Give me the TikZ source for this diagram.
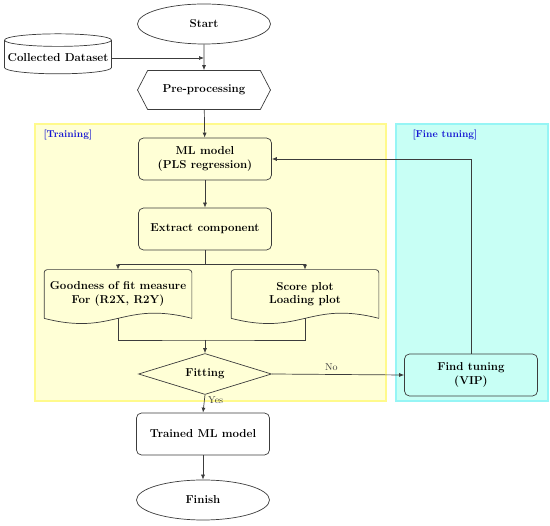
\documentclass[tikz,border=0pt]{standalone}
\usepackage{tikz}
\usetikzlibrary{calc,arrows.meta,shapes.geometric,shapes.symbols}
\definecolor{linegray}{RGB}{60,60,60}
\definecolor{trainfill}{RGB}{255,255,214}
\definecolor{trainline}{RGB}{255,250,140}
\definecolor{tunefill}{RGB}{200,255,245}
\definecolor{tuneline}{RGB}{150,245,245}
\definecolor{tagblue}{RGB}{20,20,210}
\tikzset{
  flow/.style={draw=linegray, line width=0.7pt, font=\fontsize{11.5}{13.5}\selectfont\bfseries},
  term/.style={flow, ellipse, minimum width=133pt, minimum height=40pt},
  proc/.style={flow, rectangle, rounded corners=5pt, minimum width=133pt, minimum height=42pt, align=center},
  prep/.style={flow, signal, signal to=east and west, signal pointer angle=125, minimum width=133pt, minimum height=39pt},
  decide/.style={flow, diamond, aspect=3.2, inner sep=0pt, minimum width=133pt, minimum height=41pt},
  store/.style={flow, cylinder, shape border rotate=90, aspect=0.12, inner sep=2pt, minimum width=107pt, minimum height=40pt},
  doc/.style={flow, draw=none, minimum width=147pt, minimum height=48pt, align=center},
  conn/.style={draw=linegray, line width=0.7pt, -{Latex[length=5pt,width=4pt]}},
  tag/.style={text=tagblue, font=\fontsize{10}{12}\selectfont\bfseries, anchor=west},
  lbl/.style={font=\fontsize{10}{12}\selectfont, text=linegray}
}
\def\docshape#1{\draw[draw=linegray, line width=0.7pt, rounded corners=3pt] (#1.south east) -- (#1.north east) -- (#1.north west) -- (#1.south west);
  \draw[draw=linegray, line width=0.7pt] (#1.south west) .. controls ($(#1.south west)+(70,18)$) and ($(#1.south east)+(-70,-18)$) .. (#1.south east);}

\begin{document}
\begin{tikzpicture}[x=1pt,y=-1pt]
    \useasboundingbox (0,0) rectangle (550,526);
    % zones
    \draw[trainline, fill=trainfill, line width=1.5pt] (35,124) rectangle (386,401);
    \draw[tuneline, fill=tunefill, line width=1.5pt] (396,124) rectangle (548,401);
    \node[tag] (traintag) at (40,135) {[Training]};
    \node[tag] (tunetag) at (409,135) {[Fine tuning]};
    % nodes
    \node[term] (start) at (204,24) {Start};
    \node[store] (data) at (58,58) {Collected Dataset};
    \node[prep] (pre) at (204,90) {Pre-processing};
    \node[proc] (ml) at (205,159) {ML model\\(PLS regression)};
    \node[proc] (ext) at (205,229) {Extract component};
    \node[doc] (good) at (118,294) {Goodness of fit measure\\For (R2X, R2Y)};
    \node[doc] (score) at (305,294) {Score plot\\Loading plot};
    \node[decide] (fit) at (205,374) {Fitting};
    \node[proc] (find) at (471,375) {Find tuning\\(VIP)};
    \node[proc] (trained) at (203,434) {Trained ML model};
    \node[term] (finish) at (203,500) {Finish};
    \docshape{good}
    \docshape{score}
    \coordinate (split) at (205,264);
    \coordinate (merge) at (205,340);
    % connectors
    \draw[conn] (start) -- (pre);
    \draw[conn] (data.east) -- (data.east -| start.south);
    \draw[conn] (pre) -- (ml);
    \draw[conn] (ml) -- (ext);
    \draw[draw=linegray, line width=0.7pt] (ext.south) -- (split);
    \draw[conn] (split) -| (good.north);
    \draw[conn] (split) -| (score.north);
    \draw[draw=linegray, line width=0.7pt] (good.south) |- (merge) -| (score.south);
    \draw[conn] (merge) -- (fit.north);
    \draw[conn] (fit.east) -- node[lbl, above, pos=0.45] {No} (find.west);
    \draw[conn] (find.north) |- (ml.east);
    \draw[conn] (fit.south) -- node[lbl, right, pos=0.3] {Yes} (trained.north);
    \draw[conn] (trained) -- (finish);
\end{tikzpicture}
\end{document}
